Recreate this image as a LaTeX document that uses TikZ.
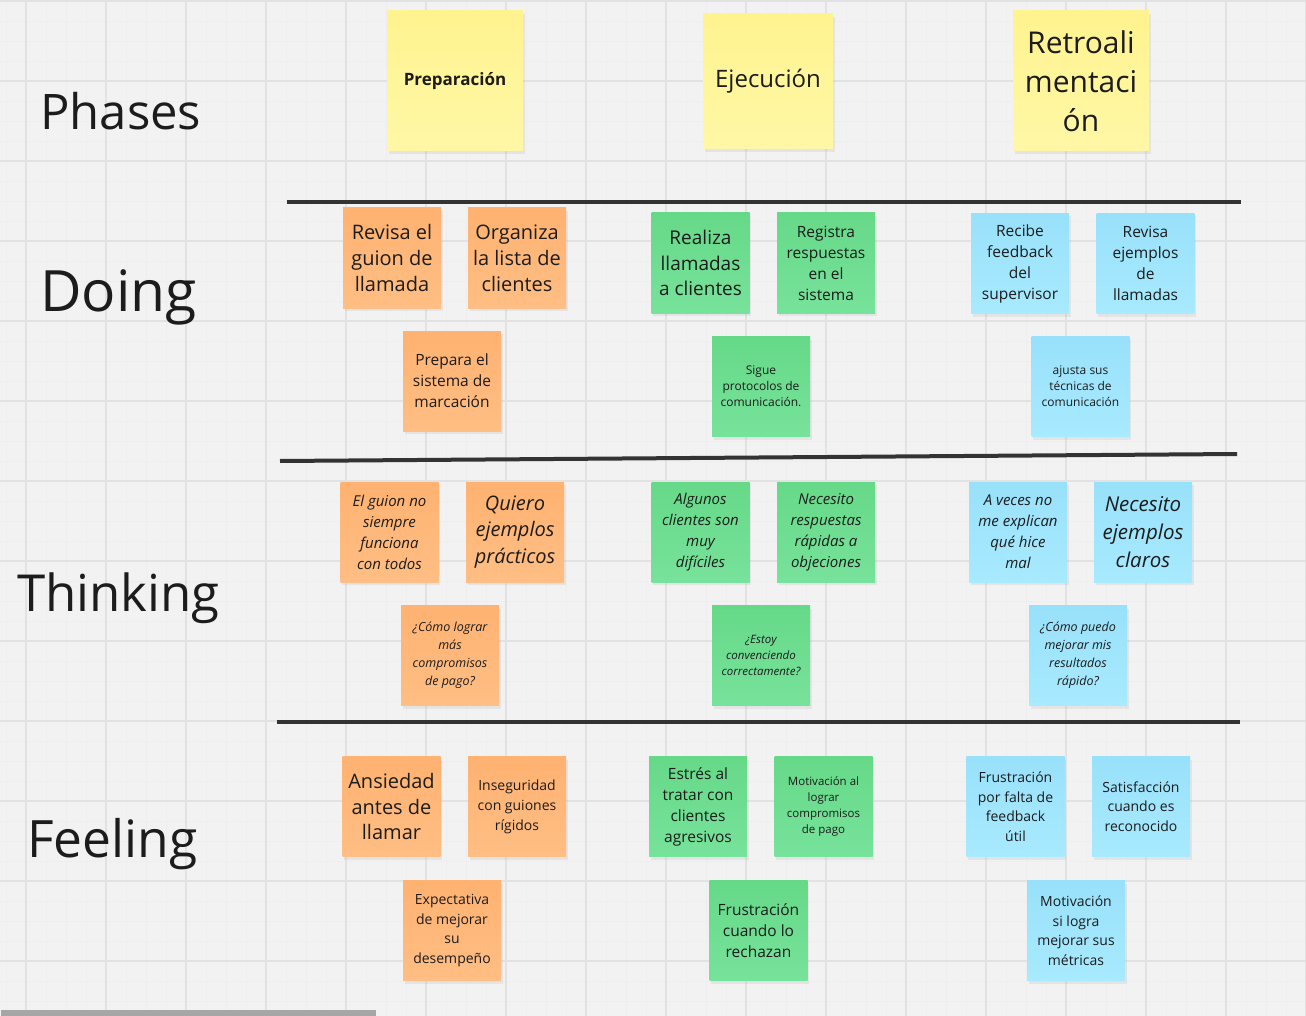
\documentclass[tikz,border=0pt]{standalone}
\usepackage{fontspec}
\setmainfont{Open Sans}
\usetikzlibrary{shadows}

\definecolor{paper}{HTML}{F2F2F2}
\definecolor{gridminor}{HTML}{EEEEEE}
\definecolor{gridmajor}{HTML}{E2E2E2}
\definecolor{ink}{HTML}{1C1C1C}
\definecolor{rule}{HTML}{333333}
\definecolor{orA}{HTML}{FFB271}
\definecolor{orB}{HTML}{FFBE84}
\definecolor{grA}{HTML}{66D988}
\definecolor{grB}{HTML}{77E29B}
\definecolor{blA}{HTML}{98E1FA}
\definecolor{blB}{HTML}{A8EAFF}
\definecolor{yeA}{HTML}{FFF38F}
\definecolor{yeB}{HTML}{FFF7A6}
\definecolor{scroll}{HTML}{A6A6A6}

\newcommand{\fs}[2]{\fontsize{#1}{#2}\selectfont}

\tikzset{
  card/.style={minimum width=98pt, minimum height=100pt, inner sep=1pt,
    align=center, text=ink,
    drop shadow={opacity=0.12, shadow xshift=1.5pt, shadow yshift=-3pt}},
  orangecard/.style={card, top color=orA, bottom color=orB},
  greencard/.style={card, top color=grA, bottom color=grB},
  bluecard/.style={card, top color=blA, bottom color=blB},
  phasecard/.style={card, minimum width=136pt, minimum height=140pt,
    top color=yeA, bottom color=yeB},
  rowlabel/.style={anchor=base west, inner sep=0pt, text=ink},
  divider/.style={draw=rule, line width=4pt}
}

\begin{document}
\begin{tikzpicture}[x=1pt,y=-1pt]
  % canvas
  \fill[paper] (0,0) rectangle (1306,1016);
  \useasboundingbox (0,0) rectangle (1306,1016);
  % board grid
  \foreach \gx in {6,26,...,1306} \draw[gridminor, line width=0.6pt] (\gx,0) -- (\gx,1016);
  \foreach \gy in {1,21,...,1016} \draw[gridminor, line width=0.6pt] (0,\gy) -- (1306,\gy);
  \foreach \gx in {26,106,...,1306} \draw[gridmajor, line width=1.2pt] (\gx,0) -- (\gx,1016);
  \foreach \gy in {1,81,...,1016} \draw[gridmajor, line width=1.2pt] (0,\gy) -- (1306,\gy);

  % row labels
  \node[rowlabel, font=\fs{49}{49}] (phases) at (40,130) {Phases};
  \node[rowlabel, font=\fs{57}{57}] (doing) at (40,312) {Doing};
  \node[rowlabel, font=\fs{51}{51}] (thinking) at (17,611) {Thinking};
  \node[rowlabel, font=\fs{51.5}{51.5}] (feeling) at (27,857) {Feeling};

  % phase headers
  \node[phasecard, font=\bfseries\fs{17}{22}] (prep) at (455,81) {Preparación};
  \node[phasecard, minimum width=130pt, minimum height=135pt, font=\fs{24}{30}] (ejec) at (768,81.5) {Ejecución};
  \node[phasecard, font=\fs{30}{39}] (retro) at (1081,81) {Retroali\\mentaci\\ón};

  % dividers
  \coordinate (d1a) at (287,202); \coordinate (d1b) at (1241,202);
  \coordinate (d2a) at (280,461); \coordinate (d2b) at (1237,454);
  \coordinate (d3a) at (277,722); \coordinate (d3b) at (1240,722);
  \draw[divider] (d1a) -- (d1b);
  \draw[divider] (d2a) -- (d2b);
  \draw[divider] (d3a) -- (d3b);

  % Doing
  \node[orangecard, font=\fs{20}{26}] (do1) at (392,258) {Revisa el\\guion de\\llamada};
  \node[orangecard, font=\fs{20}{26}] (do2) at (517,258) {Organiza\\la lista de\\clientes};
  \node[orangecard, font=\fs{15.5}{21}] (do3) at (452,381) {Prepara el\\sistema de\\marcación};
  \node[greencard, font=\fs{19}{25.5}] (dg1) at (700.5,263) {Realiza\\llamadas\\a clientes};
  \node[greencard, font=\fs{15.5}{21}] (dg2) at (826,263) {Registra\\respuestas\\en el\\sistema};
  \node[greencard, font=\fs{12}{16}] (dg3) at (761,386.5) {Sigue\\protocolos de\\comunicación.};
  \node[bluecard, font=\fs{15.5}{21}] (db1) at (1020,263.5) {Recibe\\feedback\\del\\supervisor};
  \node[bluecard, font=\fs{15.5}{21}] (db2) at (1145.5,263.5) {Revisa\\ejemplos\\de\\llamadas};
  \node[bluecard, font=\fs{12}{16}] (db3) at (1080.5,386.5) {ajusta sus\\técnicas de\\comunicación};

  % Thinking
  \node[orangecard, font=\itshape\fs{15}{21}] (th1) at (389.5,532) {El guion no\\siempre\\funciona\\con todos};
  \node[orangecard, font=\itshape\fs{20}{26.5}] (th2) at (515,532) {Quiero\\ejemplos\\prácticos};
  \node[orangecard, font=\itshape\fs{12.5}{18}] (th3) at (450,655.5) {¿Cómo lograr\\más\\compromisos\\de pago?};
  \node[greencard, font=\itshape\fs{15}{21}] (tg1) at (700.5,532) {Algunos\\clientes son\\muy\\difíciles};
  \node[greencard, font=\itshape\fs{15}{21}] (tg2) at (826,532) {Necesito\\respuestas\\rápidas a\\objeciones};
  \node[greencard, font=\itshape\fs{11.5}{16}] (tg3) at (761,655.5) {¿Estoy\\convenciendo\\correctamente?};
  \node[bluecard, font=\itshape\fs{15}{21}] (tb1) at (1018,532) {A veces no\\me explican\\qué hice\\mal};
  \node[bluecard, font=\itshape\fs{20.5}{28}] (tb2) at (1143,532) {Necesito\\ejemplos\\claros};
  \node[bluecard, font=\itshape\fs{12.5}{18}] (tb3) at (1078,655.5) {¿Cómo puedo\\mejorar mis\\resultados\\rápido?};

  % Feeling
  \node[orangecard, font=\fs{20}{25.5}] (fe1) at (391.5,806.5) {Ansiedad\\antes de\\llamar};
  \node[orangecard, font=\fs{14}{20}] (fe2) at (517,806.5) {Inseguridad\\con guiones\\rígidos};
  \node[orangecard, font=\fs{14}{19.5}] (fe3) at (452,930.5) {Expectativa\\de mejorar\\su\\desempeño};
  \node[greencard, font=\fs{15.5}{21}] (fg1) at (698,806.5) {Estrés al\\tratar con\\clientes\\agresivos};
  \node[greencard, font=\fs{11.5}{16}] (fg2) at (823.5,806.5) {Motivación al\\lograr\\compromisos\\de pago};
  \node[greencard, font=\fs{15.5}{21}] (fg3) at (758.5,930.5) {Frustración\\cuando lo\\rechazan};
  \node[bluecard, font=\fs{14}{19.5}] (fb1) at (1015.5,806.5) {Frustración\\por falta de\\feedback\\útil};
  \node[bluecard, font=\fs{14}{19.5}] (fb2) at (1141,806.5) {Satisfacción\\cuando es\\reconocido};
  \node[bluecard, font=\fs{14}{19.5}] (fb3) at (1076,930.5) {Motivación\\si logra\\mejorar sus\\métricas};

  % scroll bar
  \fill[scroll] (1,1010) rectangle (376,1016);
\end{tikzpicture}
\end{document}
